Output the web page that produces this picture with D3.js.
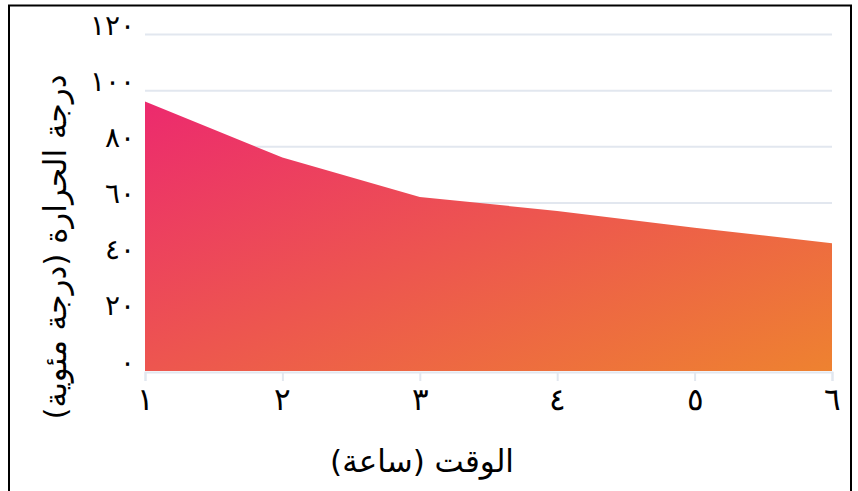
<!DOCTYPE html>
<html lang="ar">
<head>
<meta charset="utf-8">
<script src="https://cdn.jsdelivr.net/npm/d3@7"></script>
<style>
  html, body { margin: 0; padding: 0; background: #fff; }
  svg { display: block; font-family: "DejaVu Sans", sans-serif; }
</style>
</head>
<body>
<div id="chart"></div>
<script>
// data
var hours = [1, 2, 3, 4, 5, 6];
var temps = [96, 76, 62, 57, 51, 45.5];
var xLabels = ["١", "٢", "٣", "٤", "٥", "٦"];
var yTicks = [0, 20, 40, 60, 80, 100, 120];
var yLabels = ["٠", "٢٠", "٤٠", "٦٠", "٨٠", "١٠٠", "١٢٠"];
var xTitle = "الوقت (ساعة)";
var yTitle = "درجة الحرارة (درجة مئوية)";

var W = 858, H = 491;
var margin = { top: 34, right: 26, bottom: 120, left: 145 };
var width = W - margin.left - margin.right,
  height = H - margin.top - margin.bottom;

var svg = d3.select("#chart").append("svg")
  .attr("width", W)
  .attr("height", H);

// outer frame (bottom edge runs past the window like in the picture)
svg.append("rect")
  .attr("x", 9).attr("y", 5.5)
  .attr("width", 842).attr("height", 520)
  .attr("fill", "none")
  .attr("stroke", "#000")
  .attr("stroke-width", 2);

var defs = svg.append("defs");
var grad = defs.append("linearGradient")
  .attr("id", "areaGrad")
  .attr("x1", "0").attr("y1", "0")
  .attr("x2", "1").attr("y2", "1");
grad.append("stop").attr("offset", "0%").attr("stop-color", "#ec2a6e");
grad.append("stop").attr("offset", "100%").attr("stop-color", "#ee8230");

var g = svg.append("g")
  .attr("transform", "translate(" + margin.left + "," + margin.top + ")");

var x = d3.scaleLinear().domain([1, 6]).range([0, width]);
var y = d3.scaleLinear().domain([0, 120]).range([height, 0]);

// horizontal grid
g.append("g")
  .selectAll("line")
  .data(yTicks.slice(1))
  .enter()
  .append("line")
  .attr("x1", 0).attr("x2", width)
  .attr("y1", function (d) { return y(d) + 0.5 })
  .attr("y2", function (d) { return y(d) + 0.5 })
  .attr("stroke", "#e2e7ef")
  .attr("stroke-width", 2);

// area
var area = d3.area()
  .x(function (d, i) { return x(hours[i]) })
  .y0(y(0))
  .y1(function (d) { return y(d) });

g.append("path")
  .datum(temps)
  .attr("d", area)
  .attr("fill", "url(#areaGrad)");

// x axis
var xAxis = g.append("g")
  .attr("transform", "translate(0," + (height + 1) + ")")
  .call(d3.axisBottom(x)
    .tickValues(hours)
    .tickSize(9)
    .tickPadding(7)
    .tickFormat(function (d, i) { return xLabels[i] }));
xAxis.select(".domain").attr("stroke", "#e2e7ef").attr("stroke-width", 2);
xAxis.selectAll(".tick line").attr("stroke", "#e2e7ef").attr("stroke-width", 2);
xAxis.selectAll("text")
  .attr("fill", "#000")
  .style("font-size", "31px");

// y axis
var yAxis = g.append("g")
  .call(d3.axisLeft(y)
    .tickValues(yTicks)
    .tickSize(0)
    .tickPadding(10)
    .tickFormat(function (d, i) { return yLabels[i] }));
yAxis.select(".domain").remove();
yAxis.selectAll("text")
  .attr("fill", "#000")
  .attr("dy", "0.0em")
  .style("letter-spacing", "-2px")
  .style("font-size", "28px");

// titles
svg.append("text")
  .attr("x", 422)
  .attr("y", 472)
  .attr("text-anchor", "middle")
  .style("font-size", "31px")
  .attr("fill", "#000")
  .text(xTitle);

svg.append("text")
  .attr("transform", "translate(66,247) rotate(-90)")
  .attr("text-anchor", "middle")
  .style("font-size", "31px")
  .attr("fill", "#000")
  .text(yTitle);
</script>
</body>
</html>
